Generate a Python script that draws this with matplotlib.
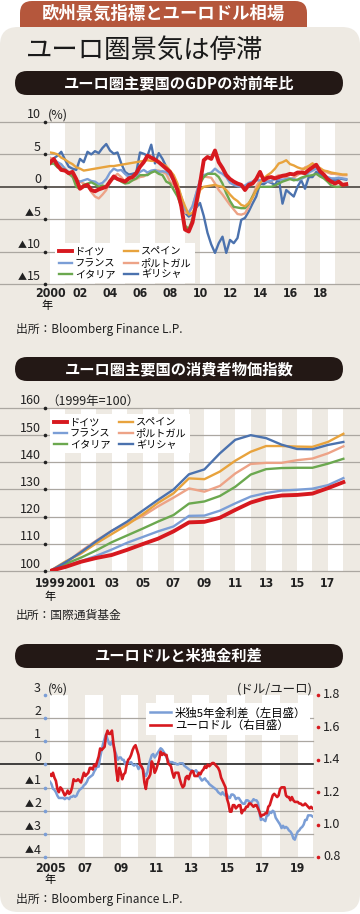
import numpy as np
import matplotlib
matplotlib.use("Agg")
import matplotlib.pyplot as plt
from matplotlib.patches import FancyBboxPatch
from matplotlib.transforms import Affine2D, ScaledTranslation
from matplotlib.offsetbox import TextArea, HPacker, AnnotationBbox

plt.rcParams['font.family'] = ['Noto Sans CJK JP', 'DejaVu Sans']

# ---------------- data ----------------
# GDP, year-on-year %, quarterly 2000Q1 .. 2019Q4
gdp_x = 2000 + np.arange(80) / 4
gdp_de = [3.7, 4.3, 3.3, 2.6, 2.5, 2.1, 2.3, 1.2, -0.3, 0.1, 0.3, -0.5,
          -0.7, -0.4, -0.2, 0.0, 0.8, 1.6, 1.2, 1.0, 0.8, 1.3, 1.5, 2.1,
          3.1, 3.8, 4.8, 4.5, 4.2, 3.8, 3.3, 2.8, 2.3, 1.0, -0.5, -3.0,
          -6.6, -6.9, -5.5, -2.5, 0.5, 4.1, 4.6, 4.3, 5.6, 3.8, 2.9, 1.8,
          1.2, 0.8, 0.5, 0.3, -0.5, 0.3, 0.5, 1.2, 2.3, 1.0, 1.4, 1.5,
          1.3, 1.5, 1.7, 1.8, 2.0, 1.9, 2.2, 2.2, 2.1, 2.6, 3.0, 3.4,
          2.4, 1.9, 1.2, 0.8, 0.5, 0.8, 0.3, 0.4]
gdp_fr = [4.0, 4.2, 3.8, 3.5, 2.8, 2.2, 1.6, 1.0, 0.8, 1.0, 1.2, 0.9,
          0.8, 0.4, 0.6, 1.2, 2.2, 2.8, 2.5, 2.6, 2.0, 1.5, 1.6, 1.7,
          2.3, 2.6, 2.2, 2.5, 2.6, 2.3, 2.4, 2.3, 1.8, 0.8, 0.0, -1.5,
          -3.5, -4.0, -3.0, -1.0, 1.0, 1.8, 2.0, 2.2, 2.8, 2.3, 2.0, 1.5,
          0.6, 0.3, 0.1, 0.0, 0.2, 0.6, 0.8, 1.0, 1.0, 0.8, 0.8, 0.9,
          1.2, 1.1, 1.1, 1.2, 1.3, 1.2, 1.0, 1.2, 1.5, 2.2, 2.5, 2.8,
          2.3, 1.8, 1.5, 1.3, 1.3, 1.4, 1.3, 1.2]
gdp_it = [3.5, 3.6, 3.0, 2.8, 2.6, 2.0, 1.6, 0.0, -0.3, 0.3, 0.5, 0.7,
          0.4, 0.0, 0.2, 0.0, 1.0, 1.3, 1.2, 0.8, 0.5, 0.6, 1.0, 1.3,
          1.8, 1.8, 1.8, 2.2, 2.4, 2.0, 1.8, 0.8, 0.5, -0.5, -1.5, -3.0,
          -6.0, -6.5, -5.0, -3.0, 0.5, 1.5, 2.0, 2.0, 2.0, 1.5, 0.5, -1.0,
          -2.2, -3.1, -3.2, -3.3, -3.3, -2.6, -1.5, -0.5, 0.0, 0.0, 0.0, 0.0,
          0.2, 0.5, 0.8, 1.0, 1.2, 1.0, 1.1, 1.4, 1.6, 1.7, 1.8, 2.0,
          1.6, 1.3, 0.8, 0.2, 0.0, 0.0, 0.2, 0.3]
gdp_es = [5.3, 5.2, 5.0, 4.5, 4.2, 3.8, 3.5, 3.0, 2.8, 2.5, 2.6, 2.7,
          2.8, 2.9, 3.0, 3.1, 3.2, 3.2, 3.3, 3.4, 3.5, 3.6, 3.7, 3.8,
          3.9, 4.0, 4.1, 4.0, 4.0, 3.8, 3.5, 3.2, 2.5, 1.8, 0.5, -1.5,
          -3.0, -4.3, -4.0, -3.0, -0.5, 0.0, 0.1, 0.2, 0.3, 0.1, 0.0, -0.5,
          -1.2, -1.8, -2.2, -2.8, -3.0, -2.5, -1.7, -0.5, 0.5, 1.3, 1.8, 2.2,
          2.8, 3.6, 3.8, 4.1, 3.5, 3.3, 3.0, 2.8, 2.8, 3.2, 3.6, 3.2,
          2.9, 2.5, 2.4, 2.2, 2.1, 2.0, 1.9, 1.9]
gdp_pt = [4.5, 4.2, 3.7, 3.0, 2.5, 2.0, 1.5, 1.0, 0.8, 0.5, 0.2, -0.8,
          -1.5, -1.8, -1.2, -0.5, 1.0, 1.5, 2.0, 1.5, 0.8, 0.8, 1.0, 1.2,
          1.5, 1.6, 2.0, 2.2, 2.5, 2.5, 2.3, 2.0, 0.8, 0.3, -0.5, -2.0,
          -4.0, -4.0, -3.0, -1.0, 1.0, 1.6, 1.5, 1.4, 0.5, -0.5, -1.2, -2.0,
          -2.8, -3.5, -4.2, -4.3, -4.1, -3.1, -1.5, 0.0, 1.0, 0.9, 1.0, 0.8,
          1.5, 1.8, 1.6, 1.5, 1.2, 1.4, 1.8, 2.2, 3.0, 3.2, 3.6, 3.0,
          2.6, 2.5, 2.2, 2.0, 2.0, 1.9, 1.8, 1.8]
gdp_gr = [4.0, 4.4, 4.8, 5.4, 4.2, 3.1, 2.8, 2.6, 4.3, 3.8, 5.4, 5.0,
          5.5, 5.2, 6.0, 6.6, 5.6, 5.1, 5.3, 3.6, 2.3, 1.9, 2.0, 2.2,
          5.3, 5.1, 4.8, 6.5, 3.6, 5.2, 4.3, 3.1, 2.2, 1.0, -0.8, -2.5,
          -4.0, -4.6, -4.2, -3.2, -2.5, -4.5, -7.1, -8.9, -10.2, -8.7, -7.7, -10.2,
          -8.2, -8.7, -7.9, -5.1, -4.8, -3.8, -2.6, -1.5, 0.5, 0.4, 0.8, 0.6,
          0.3, 1.3, -2.6, -0.5, -1.0, -1.5, 0.0, 1.0, -0.3, 1.5, 1.5, 2.3,
          2.0, 1.5, 1.3, 1.2, 1.0, 1.3, 1.2, 1.1]
gdp_ticks = list(range(2000, 2019, 2))
gdp_ticklabels = ['2000', '02', '04', '06', '08', '10', '12', '14', '16', '18']
gdp_yticks = [10, 5, 0, -5, -10, -15]

# consumer price index, 1999 = 100, annual
cpi_years = list(range(1999, 2019))
cpi_de = [100, 101.5, 103.4, 104.8, 105.9, 107.8, 109.9, 111.9, 114.6, 117.9,
          118.1, 119.6, 122.5, 125.2, 126.9, 127.8, 128.0, 128.5, 130.5, 132.7]
cpi_fr = [100, 101.8, 103.6, 105.6, 107.9, 110.4, 112.5, 114.6, 116.4, 120.3,
          120.4, 122.2, 124.9, 127.4, 128.7, 129.6, 129.9, 130.3, 131.6, 134.2]
cpi_it = [100, 102.6, 104.9, 107.6, 110.6, 113.1, 115.6, 118.2, 120.6, 124.8,
          125.6, 127.6, 131.0, 135.5, 137.5, 137.9, 138.0, 138.0, 139.5, 141.3]
cpi_es = [100, 103.5, 106.4, 110.2, 113.6, 117.0, 120.9, 125.1, 128.6, 134.1,
          133.8, 136.6, 140.6, 143.9, 146.0, 146.0, 145.8, 145.7, 147.5, 150.5]
cpi_pt = [100, 102.8, 107.3, 111.2, 114.8, 117.6, 120.2, 123.8, 127.0, 130.4,
          129.2, 131.3, 135.9, 139.4, 139.8, 139.8, 140.8, 141.4, 143.3, 145.9]
cpi_gr = [100, 103.2, 106.9, 111.0, 114.8, 118.2, 122.2, 126.2, 130.0, 135.6,
          137.4, 143.3, 148.3, 150.0, 148.9, 146.5, 144.9, 144.8, 146.4, 147.5]
cpi_ticks = list(range(1999, 2018, 2))
cpi_ticklabels = ['1999', '2001', '03', '05', '07', '09', '11', '13', '15', '17']
cpi_yticks = [160, 150, 140, 130, 120, 110, 100]

# EUR/USD and US-German 5y spread, monthly 2005-01 .. 2019-11
fx_x = 2005 + np.arange(179) / 12
eurusd = [1.31, 1.30, 1.32, 1.29, 1.27, 1.22, 1.20, 1.23, 1.22, 1.20, 1.18, 1.19,
          1.21, 1.19, 1.20, 1.23, 1.28, 1.27, 1.27, 1.28, 1.27, 1.26, 1.29, 1.32,
          1.30, 1.31, 1.32, 1.35, 1.35, 1.34, 1.37, 1.36, 1.39, 1.42, 1.47, 1.46,
          1.47, 1.48, 1.55, 1.58, 1.56, 1.56, 1.58, 1.50, 1.44, 1.33, 1.27, 1.35,
          1.32, 1.28, 1.31, 1.32, 1.37, 1.40, 1.41, 1.43, 1.46, 1.48, 1.49, 1.46,
          1.43, 1.37, 1.36, 1.34, 1.26, 1.22, 1.28, 1.29, 1.31, 1.39, 1.37, 1.32,
          1.34, 1.37, 1.40, 1.45, 1.43, 1.44, 1.43, 1.43, 1.38, 1.37, 1.36, 1.32,
          1.29, 1.32, 1.32, 1.32, 1.28, 1.25, 1.23, 1.24, 1.29, 1.30, 1.28, 1.31,
          1.33, 1.33, 1.30, 1.30, 1.30, 1.32, 1.31, 1.33, 1.34, 1.36, 1.35, 1.37,
          1.36, 1.37, 1.38, 1.38, 1.37, 1.36, 1.35, 1.33, 1.29, 1.27, 1.25, 1.23,
          1.16, 1.13, 1.08, 1.08, 1.12, 1.12, 1.10, 1.11, 1.12, 1.12, 1.07, 1.09,
          1.09, 1.11, 1.11, 1.13, 1.13, 1.12, 1.11, 1.12, 1.12, 1.10, 1.08, 1.05,
          1.06, 1.06, 1.07, 1.07, 1.11, 1.12, 1.15, 1.18, 1.19, 1.18, 1.17, 1.18,
          1.22, 1.23, 1.23, 1.23, 1.18, 1.17, 1.17, 1.15, 1.17, 1.15, 1.14, 1.14,
          1.14, 1.13, 1.13, 1.12, 1.12, 1.13, 1.12, 1.11, 1.10, 1.11, 1.10]
spread = [-0.75, -0.85, -1.05, -1.10, -1.20, -1.35, -1.45, -1.45, -1.45, -1.45, -1.50, -1.45,
          -1.45, -1.50, -1.40, -1.40, -1.35, -1.40, -1.35, -1.20, -1.10, -1.05, -1.00, -0.90,
          -0.85, -0.75, -0.60, -0.55, -0.50, -0.45, -0.30, -0.20, -0.05, -0.10, 0.30, 0.60,
          0.90, 1.10, 1.30, 1.10, 0.90, 0.85, 1.00, 0.85, 0.60, 0.40, 0.20, 0.30,
          0.30, 0.20, 0.20, 0.00, 0.10, 0.10, 0.05, 0.10, 0.00, -0.05, 0.00, -0.05,
          -0.20, -0.10, -0.10, -0.20, -0.40, -0.50, -0.35, 0.00, 0.20, 0.40, 0.45, 0.30,
          0.40, 0.50, 0.60, 0.70, 0.65, 0.55, 0.45, 0.30, 0.20, 0.10, 0.10, 0.10,
          0.05, 0.05, 0.00, 0.00, 0.05, 0.05, 0.05, -0.05, -0.10, -0.15, -0.20, -0.25,
          -0.25, -0.30, -0.30, -0.25, -0.35, -0.50, -0.60, -0.70, -0.65, -0.60, -0.70, -0.75,
          -0.85, -0.90, -0.95, -1.00, -1.05, -1.10, -1.20, -1.25, -1.30, -1.20, -1.30, -1.35,
          -1.30, -1.45, -1.45, -1.30, -1.30, -1.35, -1.50, -1.45, -1.45, -1.55, -1.65, -1.70,
          -1.70, -1.55, -1.55, -1.60, -1.65, -1.60, -1.50, -1.55, -1.55, -1.65, -2.10, -2.40,
          -2.35, -2.40, -2.45, -2.20, -2.20, -2.05, -2.10, -2.00, -2.05, -2.30, -2.40, -2.50,
          -2.60, -2.75, -2.65, -2.75, -2.70, -2.75, -2.85, -2.90, -3.00, -3.20, -3.25, -3.05,
          -2.90, -2.85, -2.75, -2.70, -2.60, -2.40, -2.40, -2.20, -2.20, -2.20, -2.25]
fx_ticks = list(range(2005, 2020, 2))
fx_ticklabels = ['2005', '07', '09', '11', '13', '15', '17', '19']
fx_yticks = [3, 2, 1, 0, -1, -2, -3, -4]
fx_rticks = [1.8, 1.6, 1.4, 1.2, 1.0, 0.8]

# ---------------- style ----------------
W, H, DPI = 360, 914, 100
BG = '#EEEAE3'
GRID = '#ABA7A1'
RUST = '#B5573C'
BAR = '#231815'
TXT = '#222222'
C_DE = '#D7191F'
C_FR = '#7B9ED6'
C_IT = '#6BA84F'
C_ES = '#E8A33D'
C_PT = '#EDA387'
C_GR = '#4B72AE'
TICKFONT = dict(family='DejaVu Sans', stretch='condensed', weight='bold', size=8.8)

fig = plt.figure(figsize=(W / DPI, H / DPI), dpi=DPI, facecolor='white')
# pixel coordinates, origin top-left
px = Affine2D().scale(1 / DPI, -1 / DPI).translate(0, H / DPI) + fig.dpi_scale_trans


def box(x, y, w, h, r, color, z):
    p = FancyBboxPatch((x, y), w, h, boxstyle=f'round,pad=0,rounding_size={r}',
                       transform=px, fc=color, ec='none', zorder=z)
    fig.add_artist(p)


def label(x, y, s, **kw):
    kw.setdefault('va', 'center')
    fig.text(x, y, s, transform=px, **kw)


def make_axes(x0, y0, x1, y1):
    ax = fig.add_axes([x0 / W, 1 - y1 / H, (x1 - x0) / W, (y1 - y0) / H])
    ax.set_facecolor(BG)
    for s in ax.spines.values():
        s.set_visible(False)
    ax.set_yticks([])
    ax.tick_params(length=0)
    return ax


def hline(ax, v, x0, x1, ax0, axw, color=GRID, lw=0.9, z=1):
    ax.axhline(v, xmin=(x0 - ax0) / axw, xmax=(x1 - ax0) / axw, color=color,
               lw=lw, clip_on=False, zorder=z)


def num_label(ax, v, xax, dy=7):
    # "▲" is drawn smaller than the digits, as in print
    parts = []
    if v < 0:
        parts.append(TextArea('▲', textprops=dict(fontsize=6.5, color=TXT)))
    parts.append(TextArea(f'{abs(v):g}', textprops=dict(fontsize=9, color=TXT)))
    pack = HPacker(children=parts, align='baseline', pad=0, sep=0.5)
    t = ax.get_yaxis_transform() + ScaledTranslation(0, dy / DPI, fig.dpi_scale_trans)
    ab = AnnotationBbox(pack, (xax, v), xycoords=t, frameon=False,
                        box_alignment=(1, 0.5), pad=0, annotation_clip=False)
    ax.add_artist(ab)


def ylabels(ax, vals, ax0, axw, xpx=41, dotx=45, dot=TXT):
    for v in vals:
        num_label(ax, v, (xpx - ax0) / axw)
    ax.plot([(dotx - ax0) / axw] * len(vals), vals, 'o', ms=2.6, color=dot,
            mec='none', transform=ax.get_yaxis_transform(), clip_on=False, zorder=5)


def bands(ax, start, stop):
    for yr in range(start, stop, 2):
        ax.axvspan(yr, yr + 1, color='white', lw=0, zorder=0)


def xlabels(ax, ticks, labels, pad):
    ax.set_xticks(ticks, labels)
    for t in ax.get_xticklabels():
        t.set_fontproperties(TICKFONT)
        t.set_color(TXT)
    ax.tick_params(axis='x', pad=pad)


leg_kw = dict(frameon=True, facecolor='white', edgecolor='none', fancybox=False,
              framealpha=1, borderpad=0.35, handletextpad=0.3, labelspacing=0.12,
              borderaxespad=0)

# background panel and headers
box(20, 1, 287, 50, 12, RUST, -6)
box(0, 27, 360, 885, 18, BG, -5)
label(163, 14, '欧州景気指標とユーロドル相場', ha='center', color='white',
      fontsize=12.5, fontweight='bold')
label(26, 50, 'ユーロ圏景気は停滞', ha='left', fontsize=19, color='#1a1a1a')

for y0, txt in [(71, 'ユーロ圏主要国のGDPの対前年比'),
                (357, 'ユーロ圏主要国の消費者物価指数'),
                (644, 'ユーロドルと米独金利差')]:
    box(15, y0, 328, 24, 12, BAR, -4)
    label(179, y0 + 12, txt, ha='center', color='white', fontsize=11, fontweight='bold')

# ---------------- chart 1: GDP ----------------
ax1 = make_axes(50, 122, 350, 284)
ax1.set_xlim(2000, 2020)
ax1.set_ylim(-15, 10)
bands(ax1, 2000, 2020)
for v in gdp_yticks:
    if v == 0:
        hline(ax1, v, 0, 360, 50, 300, color='#55514C', lw=1.3, z=2)
    else:
        hline(ax1, v, 0, 360, 50, 300)
ylabels(ax1, gdp_yticks, 50, 300)
label(48, 115, '(%)', fontsize=9, color=TXT)

series1 = [(gdp_de, C_DE, 'ドイツ', 2.8, 9), (gdp_fr, C_FR, 'フランス', 1.7, 5),
           (gdp_it, C_IT, 'イタリア', 1.7, 6), (gdp_es, C_ES, 'スペイン', 1.7, 7),
           (gdp_pt, C_PT, 'ポルトガル', 1.7, 4), (gdp_gr, C_GR, 'ギリシャ', 1.7, 3)]
handles = []
for vals, c, name, lw, z in series1:
    ln, = ax1.plot(gdp_x, vals, color=c, lw=lw, label=name, zorder=z,
                   solid_joinstyle='round')
    handles.append(ln)
ax1.legend(handles=handles, ncol=2, loc='lower left', bbox_to_anchor=(0.017, 0.006),
           fontsize=7.3, handlelength=1.3, columnspacing=0.9, **leg_kw)
xlabels(ax1, gdp_ticks, gdp_ticklabels, 2.5)
label(47, 306, '年', ha='center', fontsize=8)
label(16, 329, '出所：Bloomberg Finance L.P.', fontsize=8.5, color=TXT)

# ---------------- chart 2: CPI ----------------
ax2 = make_axes(50, 408, 350, 571)
ax2.set_xlim(1999, 1999 + 300 / 15.44)
ax2.set_ylim(100, 160)
bands(ax2, 1999, 2019)
for v in cpi_yticks:
    hline(ax2, v, 0, 360, 50, 300)
ylabels(ax2, cpi_yticks, 50, 300)
label(46, 401, '（1999年=100）', fontsize=9, color=TXT)

series2 = [(cpi_de, C_DE, 'ドイツ', 2.8, 9), (cpi_fr, C_FR, 'フランス', 1.7, 5),
           (cpi_it, C_IT, 'イタリア', 1.7, 6), (cpi_es, C_ES, 'スペイン', 1.7, 7),
           (cpi_pt, C_PT, 'ポルトガル', 1.7, 4), (cpi_gr, C_GR, 'ギリシャ', 1.7, 8)]
handles = []
for vals, c, name, lw, z in series2:
    ln, = ax2.plot(cpi_years, vals, color=c, lw=lw, label=name, zorder=z)
    handles.append(ln)
ax2.legend(handles=handles, ncol=2, loc='upper left', bbox_to_anchor=(0.0, 0.965),
           fontsize=7.3, handlelength=1.3, columnspacing=0.9, **leg_kw)
xlabels(ax2, cpi_ticks, cpi_ticklabels, 4.5)
label(50, 597, '年', ha='center', fontsize=8)
label(16, 615, '出所：国際通貨基金', fontsize=8.5, color=TXT)

# ---------------- chart 3: EUR/USD ----------------
ax3 = make_axes(50, 695, 313, 857)
ax3.set_xlim(2005, 2019.86)
ax3.set_ylim(-4, 3)
bands(ax3, 2005, 2020)
for v in fx_yticks[1:]:
    if v == 0:
        hline(ax3, v, 0, 313, 50, 263, color=TXT, lw=1.2, z=2)
    else:
        hline(ax3, v, 0, 313, 50, 263)
ylabels(ax3, fx_yticks, 50, 263, dot=C_FR)
label(48, 689, '(%)', fontsize=9, color=TXT)
label(313, 689, '(ドル/ユーロ)', ha='right', fontsize=9, color=TXT)

ax3r = ax3.twinx()
ax3r.set_ylim(0.8, 1.8)
ax3r.set_yticks([])
for s in ax3r.spines.values():
    s.set_visible(False)
ax3r.plot([(318 - 50) / 263] * len(fx_rticks), fx_rticks, 'o', ms=2.6, color=C_DE,
          mec='none', transform=ax3r.get_yaxis_transform(), clip_on=False)
for v in fx_rticks:
    ax3r.text((323 - 50) / 263, v, f'{v:.1f}', transform=ax3r.get_yaxis_transform(),
              ha='left', va='center', fontsize=9, color=TXT)

l_sp, = ax3.plot(fx_x, spread, color=C_FR, lw=1.8, zorder=4,
                 label='米独5年金利差（左目盛）')
l_fx, = ax3r.plot(fx_x, eurusd, color=C_DE, lw=1.9, zorder=5,
                  label='ユーロドル（右目盛）')
ax3r.legend(handles=[l_sp, l_fx], loc='upper right', bbox_to_anchor=(0.989, 0.95),
            fontsize=8.2, handlelength=1.9, **leg_kw)
xlabels(ax3, fx_ticks, fx_ticklabels, 3.5)
label(50, 880, '年', ha='center', fontsize=8)
label(16, 900, '出所：Bloomberg Finance L.P.', fontsize=8.5, color=TXT)

fig.savefig('out.png', dpi=DPI, facecolor='white')
